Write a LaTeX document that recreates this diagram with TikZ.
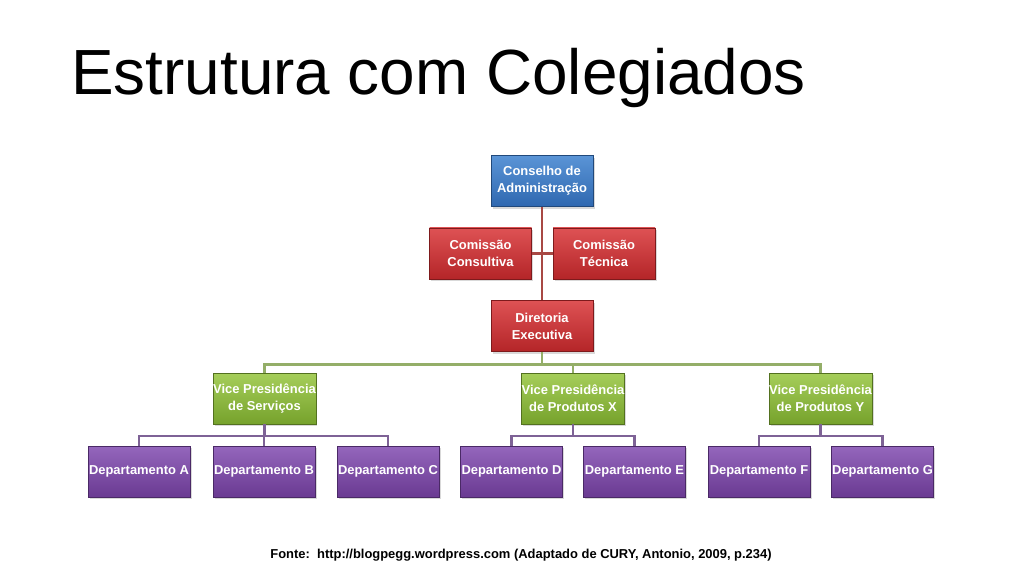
\documentclass[tikz,border=0pt]{standalone}
\usepackage{fontspec}
\setmainfont{Liberation Sans}
\usetikzlibrary{shadows}
\definecolor{blueA}{HTML}{5A94D6}
\definecolor{blueB}{HTML}{2F68B0}
\definecolor{redA}{HTML}{DE5254}
\definecolor{redB}{HTML}{B42528}
\definecolor{greenA}{HTML}{A6CE5A}
\definecolor{greenB}{HTML}{76A22C}
\definecolor{purpA}{HTML}{9466BC}
\definecolor{purpB}{HTML}{6A3A92}
\definecolor{redline}{HTML}{A84844}
\definecolor{greenline}{HTML}{94AE68}
\definecolor{purpline}{HTML}{7E6296}
\newdimen\pxu \pxu=0.025cm
\tikzset{
  orgbox/.style={minimum width=102\pxu, minimum height=51\pxu, inner sep=0pt,
    align=center, text=white, font=\fontsize{9.2}{12}\selectfont\bfseries,
    draw=#1B!70!black, line width=0.4pt, top color=#1A, bottom color=#1B,
    drop shadow={opacity=0.3, shadow xshift=1.2pt, shadow yshift=-1.5pt}},
  link/.style={line width=1.8pt, draw=#1}
}
\begin{document}
\begin{tikzpicture}[x=0.025cm, y=-0.025cm]
\useasboundingbox (0,0) rectangle (1024,576);

\node[anchor=base west, inner sep=0, font=\fontsize{45.4}{50}\selectfont] (title) at (71,95) {Estrutura com Colegiados};

% topo
\node[orgbox=blue] (cons) at (542,181) {Conselho de\\Administração};
\node[orgbox=red] (cc) at (480.5,253.5) {Comissão\\Consultiva};
\node[orgbox=red] (ct) at (604,253.5) {Comissão\\Técnica};
\node[orgbox=red] (dir) at (542,326) {Diretoria\\Executiva};

% vice presidencias
\node[orgbox=green] (vp1) at (264.5,398.5) {Vice Presidência\\de Serviços};
\node[orgbox=green] (vp2) at (573,398.5) {Vice Presidência\\de Produtos X};
\node[orgbox=green] (vp3) at (820.5,398.5) {Vice Presidência\\de Produtos Y};

% departamentos
\node[orgbox=purp] (da) at (139,471.5) {Departamento A};
\node[orgbox=purp] (db) at (264,471.5) {Departamento B};
\node[orgbox=purp] (dc) at (388,471.5) {Departamento C};
\node[orgbox=purp] (dd) at (511.5,471.5) {Departamento D};
\node[orgbox=purp] (de) at (634.5,471.5) {Departamento E};
\node[orgbox=purp] (df) at (759,471.5) {Departamento F};
\node[orgbox=purp] (dg) at (882.5,471.5) {Departamento G};

\coordinate (bus) at (542,364.5);
\coordinate (b1) at (264.5,436);
\coordinate (b2) at (573,436);
\coordinate (b3) at (820.5,436);

\draw[link=redline] (cons) -- (dir);
\draw[link=redline] (cc) -- (ct);

\draw[link=greenline] (dir) -- (bus);
\draw[link=greenline] (bus) -| (vp1);
\draw[link=greenline] (bus) -| (vp2);
\draw[link=greenline] (bus) -| (vp3);

\draw[link=purpline] (vp1) -- (b1);
\draw[link=purpline] (b1) -| (da);
\draw[link=purpline] (b1) -| (db);
\draw[link=purpline] (b1) -| (dc);
\draw[link=purpline] (vp2) -- (b2);
\draw[link=purpline] (b2) -| (dd);
\draw[link=purpline] (b2) -| (de);
\draw[link=purpline] (vp3) -- (b3);
\draw[link=purpline] (b3) -| (df);
\draw[link=purpline] (b3) -| (dg);

\node[anchor=base, inner sep=0, font=\fontsize{9.2}{11}\selectfont\bfseries] (fonte) at (521,558) {Fonte:\ \ http://blogpegg.wordpress.com (Adaptado de CURY, Antonio, 2009, p.234)};
\end{tikzpicture}
\end{document}
